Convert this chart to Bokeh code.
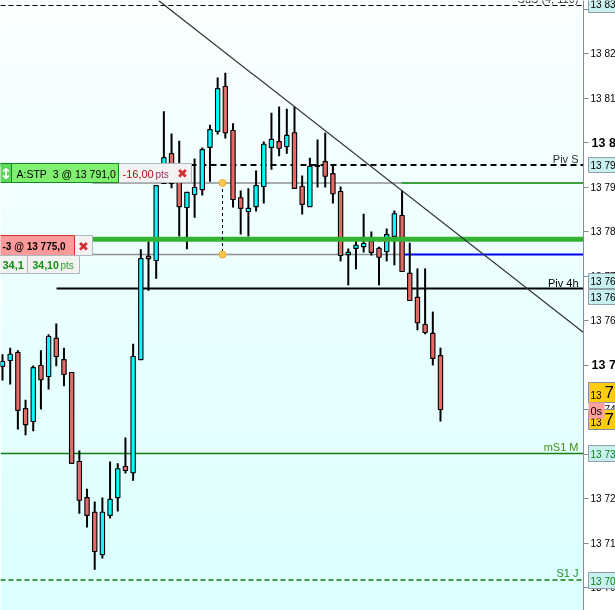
from bokeh.plotting import figure
from bokeh.embed import file_html
from bokeh.resources import INLINE
from bokeh.core.properties import value
from bokeh.models import Range1d, LinearAxis, FixedTicker, Label, BoxAnnotation
import numpy as np

# candles as prices, oldest first
opens  = [13749.7,13751.0,13752.8,13740.2,13737.3,13749.9,13747.4,13756.0,13751.2,13748.3,13728.3,13720.2,13716.9,13707.4,13716.2,13720.2,13727.2,13725.8,13751.2,13774.4,13773.5,13790.8,13797.5,13793.7,13785.4,13788.3,13789.4,13798.9,13802.5,13812.6,13802.7,13787.6,13784.5,13785.6,13790.1,13798.9,13800.2,13799.1,13802.2,13790.1,13785.6,13794.8,13795.7,13793.0,13789.0,13774.8,13776.2,13776.6,13777.8,13776.2,13775.5,13778.9,13783.6,13770.6,13765.2,13759.1,13757.1,13752.1]
closes = [13750.8,13752.4,13739.8,13736.6,13749.4,13746.7,13756.4,13751.9,13747.9,13727.9,13719.6,13716.2,13708.1,13716.9,13719.8,13726.7,13726.3,13751.9,13773.9,13773.9,13790.3,13796.6,13790.8,13785.6,13788.8,13789.9,13798.4,13802.9,13812.1,13802.2,13787.2,13785.2,13785.2,13790.3,13799.6,13800.7,13798.7,13801.6,13789.7,13786.1,13794.6,13794.6,13792.4,13788.5,13774.6,13775.3,13776.9,13777.3,13775.3,13774.2,13779.3,13784.0,13771.0,13764.5,13759.5,13757.3,13751.5,13740.0]
highs  = [13752.4,13753.9,13753.3,13742.2,13749.9,13753.3,13756.9,13759.3,13753.9,13748.3,13730.8,13722.2,13719.3,13720.2,13728.3,13727.9,13733.7,13754.8,13776.0,13777.8,13790.3,13807.0,13802.0,13800.4,13788.8,13796.4,13798.9,13804.0,13814.6,13815.7,13804.3,13789.2,13789.7,13793.7,13800.2,13806.7,13808.1,13807.6,13808.1,13792.6,13796.6,13800.7,13802.2,13795.1,13790.1,13776.2,13777.8,13784.0,13780.0,13776.6,13780.7,13784.7,13789.2,13777.5,13771.7,13771.7,13762.0,13753.9]
lows   = [13746.5,13745.6,13735.5,13734.2,13735.1,13740.0,13744.5,13749.7,13745.2,13727.9,13716.6,13713.5,13704.0,13706.5,13715.5,13717.1,13725.6,13724.0,13751.2,13766.7,13769.4,13790.8,13789.7,13778.9,13776.0,13783.1,13788.1,13791.2,13801.8,13800.9,13785.4,13779.3,13778.9,13784.5,13786.3,13793.9,13796.9,13797.5,13789.7,13783.8,13785.6,13789.9,13789.9,13786.3,13773.3,13767.9,13771.5,13775.3,13774.6,13767.9,13773.3,13772.4,13771.0,13764.5,13757.8,13756.9,13749.9,13737.3]

tick_prices = [13830,13820,13810,13800,13790,13780,13770,13760,13750,13740,13730,13720,13710,13700]
tick_labels = ["13 83","13 82","13 81","","13 79","13 78","13 77","13 76","","13 74","13 73","13 72","13 71","13 70"]
bold_ticks = {13800:"13 8",13750:"13 7"}

PPP = 4.45
def Y(py): return 13820-(py-53)/PPP
def X(px): return (px-2)/7.684

W,H,AX = 615,610,583
yr=Range1d(Y(H),Y(0))
p = figure(width=W,height=H,output_backend="svg",toolbar_location=None,
           x_range=Range1d(X(0),X(AX)),y_range=yr,
           min_border=0,frame_width=AX,frame_height=H,
           x_axis_location=None,y_axis_location=None)
p.grid.visible=False
p.outline_line_color=None
p.styles={"position":"fixed","left":"0px","top":"0px"}
p.border_fill_color="#ffffff"

# gradient
n=64
img=np.zeros((n,1),dtype=np.uint32)
v=img.view(dtype=np.uint8).reshape((n,1,4))
for i in range(n):
    t=i/(n-1)
    v[i,0]=[int(0xdc+t*(0xfa-0xdc)),255,255,255]
p.image_rgba(image=[img],x=X(0),y=Y(H),dw=X(AX)-X(0),dh=Y(0)-Y(H))

# axis
ax=LinearAxis(ticker=FixedTicker(ticks=tick_prices),major_label_overrides={k:l for k,l in zip(tick_prices,tick_labels)},
              axis_line_color="#7f8f9f",major_tick_line_color="#7f8f9f",major_tick_out=5,major_tick_in=0,minor_tick_line_color=None,
              major_label_text_font="Liberation Sans",major_label_text_font_size="10px",major_label_text_color="#000000",major_label_standoff=2,
              major_label_text_align="left")
p.add_layout(ax,"right")

def hl(p0,p1,py,color,w,dash="solid"):
    p.line([X(p0),X(p1)],[Y(py),Y(py)],line_color=color,line_width=w,line_dash=dash)
hl(0,AX,164.5,"#000000",2,"6 4")
hl(0,AX,5,"#000000",1.2,"5 3")
hl(92,401,182.5,"#909090",1.5)
hl(401,AX,182.5,"#008000",1.3)
hl(92,401,254,"#909090",1.5)
hl(401,AX,254,"#0000ff",2)
hl(56,AX,288,"#000000",2)
hl(0,AX,453,"#108010",1.3)
hl(0,AX,579.5,"#108010",1.3,"5 3")

# candles
xs=np.arange(len(opens))
o,h,l,c=map(np.array,(opens,highs,lows,closes))
up=c>=o
p.segment(xs,h,xs,l,line_color="#000000",line_width=2)
bw=0.56
p.vbar(xs[up],bw,o[up],c[up],fill_color="#00ffff",line_color="#000000",line_width=1.1)
p.vbar(xs[~up],bw,c[~up],o[~up],fill_color="#e46a68",line_color="#000000",line_width=1.1)

hl(92,AX,238.8,"#33b233",5)
p.line([X(158),X(AX)],[Y(0),Y(332)],line_color="#303030",line_width=1.2)
p.line([X(222),X(222)],[Y(182.5),Y(254)],line_color="#000000",line_width=1,line_dash="3 3")
p.scatter([X(222),X(222)],[Y(182.5),Y(254)],size=7,fill_color="#ffc850",line_color="#e8a830",line_width=1)

def box(x0,x1,y0,y1,fill,line,radius=0):
    p.add_layout(BoxAnnotation(left=x0,right=x1,top=y0,bottom=y1,left_units="canvas",right_units="canvas",top_units="canvas",bottom_units="canvas",
        fill_color=fill,fill_alpha=1,line_color=line,line_width=1,line_alpha=1 if line else 0,border_radius=radius,level="overlay"))
def txt(px,py,s,color="#000000",size=11,style="normal",align="left",font="Liberation Sans"):
    p.add_layout(Label(x=px,y=py,x_units="canvas",y_units="canvas",text=s,text_color=color,text_font_size=f"{size}px",text_font=font,text_font_style=style,text_align=align,text_baseline="middle",level="overlay"))

# order labels
box(118,191,163,182,"#f2f2f2","#b0b8c0")
box(-3,11,163,182,"#5cd85c","#108a18")
box(11,118,163,182,"#80f070","#108a18")
txt(16,173,"A:STP\u00a0\u00a03 @ 13 791,0","#000000",10.5)
txt(122,173,"-16,00","#b01010",11)
txt(155,173.5,"pts","#a03060",10)
txt(182,173,"✖","#d03030",13,align="center",font="DejaVu Sans")
txt(5.5,173,"↕","#ffffff",15,"bold","center",font="DejaVu Sans")
box(74,92,235,255,"#f2f2f2","#b0b8c0")
box(-3,74,235,255,"#ff9a9a","#d03030")
txt(2,245.5,"-3 @ 13 775,0","#000000",10,"bold")
txt(83,245.5,"✖","#d03030",13,align="center",font="DejaVu Sans")
box(-3,27,255,273,"#f2f2f2","#b0b8c0")
box(27,79,255,273,"#f2f2f2","#b0b8c0")
txt(2,264.5,"34,1","#109010",11,"bold")
txt(32,264.5,"34,10","#109010",10.5,"bold")
txt(60,265,"pts","#30a030",10)

txt(578,158,"Piv S","#303030",11,align="right")
txt(578,282,"Piv 4h","#000000",11,align="right")
txt(578,446,"mS1 M","#409010",11,align="right")
txt(578,572,"S1 J","#209020",11,align="right")
txt(578,-2,"SuS (4, 110)","#303030",11,align="right")

# right strip drawn as a transparent second figure sharing the price range
q = figure(width=W-AX,height=H,output_backend="svg",toolbar_location=None,
           x_range=Range1d(AX,W),y_range=yr,min_border=0,
           x_axis_location=None,y_axis_location=None)
q.grid.visible=False
q.outline_line_color=None
q.background_fill_alpha=0
q.border_fill_alpha=0
q.styles={"position":"fixed","left":f"{AX}px","top":"0px"}

def qbox(x0,x1,y0,y1,fill,line):
    q.quad(left=[x0],right=[x1],top=[Y(y0)],bottom=[Y(y1)],fill_color=fill,line_color=line,line_width=1)
def qtxt(px,py,s,color="#000000",size=10,style="normal"):
    q.text(x=[px],y=[Y(py)],text=[s],text_color=color,text_font=value("Liberation Sans"),text_font_size=value(f"{size}px"),
           text_font_style=style,text_align="left",text_baseline="middle")

for k,s in bold_ticks.items():
    qtxt(591,53+(13820-k)*PPP,s,"#000000",12.5,"bold")
for py0,py1,s,col in [(-6,12,"13 83","#000000"),(157,172,"13 79","#000000"),(273,288,"13 76","#000000"),(289,304,"13 76","#000000"),(445,461,"13 73","#108010"),(572,588,"13 70","#108010")]:
    qbox(588,618,py0,py1,"#c8f0f0","#8f9fa8")
    qtxt(590,(py0+py1)/2+.5,s,col,10)
for py0,py1 in [(382,402),(409,429)]:
    qbox(588,618,py0,py1,"#ffcc10","#7f8f9f")
    qtxt(590,py0+12,"13","#000000",10)
    qtxt(604,py0+9,"7","#000000",17)
qbox(588,604,402,418,"#ff9f9f",None)
qtxt(590,410,"0s","#000000",11)

open("out.html","w").write(file_html((p,q),INLINE))
